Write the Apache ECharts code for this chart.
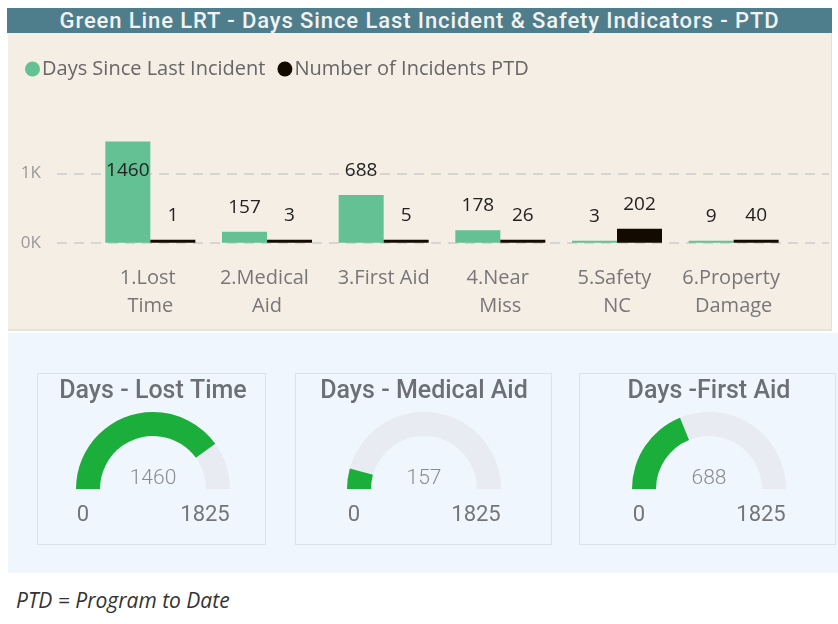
<!DOCTYPE html>
<html>
<head lang="en">
    <meta charset="UTF-8">
    <title>Green Line LRT - Safety Indicators</title>
    <script src="https://cdn.jsdelivr.net/npm/echarts@6/dist/echarts.min.js"></script>
    <style>
        body{
            margin: 0;
            background: #fff;
        }
        #page{
            position: relative;
            width: 838px;
            height: 624px;
            overflow: hidden;
        }
        .panel{
            position: absolute;
        }
        #titleBar{
            left: 7px;
            top: 8px;
            width: 825px;
            height: 25px;
            line-height: 25px;
            background: #4E7E8C;
            color: #F2F2F2;
            font: 500 22px Roboto, sans-serif;
            letter-spacing: 0.9px;
            text-align: center;
            white-space: nowrap;
        }
        #topPanel{
            left: 8px;
            top: 33px;
            width: 823px;
            height: 296px;
            background: #F5EEE4;
            border-right: 1px solid #E6E0D8;
            border-bottom: 2px solid #E6E2DC;
        }
        #bottomPanel{
            left: 8px;
            top: 333px;
            width: 830px;
            height: 240px;
            background: #EFF6FD;
        }
        .box{
            top: 373px;
            height: 170px;
            border: 1px solid #DCE2E9;
        }
        #footer{
            left: 16px;
            top: 586px;
            font: italic 21px "Open Sans", sans-serif;
            color: #333;
        }
        #container{
            position: absolute;
            left: 0;
            top: 0;
            width: 838px;
            height: 624px;
        }
    </style>
</head>
<body>
<div id="page">
    <div class="panel" id="titleBar">Green Line LRT - Days Since Last Incident &amp; Safety Indicators - PTD</div>
    <div class="panel" id="topPanel"></div>
    <div class="panel" id="bottomPanel"></div>
    <div class="panel box" style="left:37px;width:227px;"></div>
    <div class="panel box" style="left:295px;width:255px;"></div>
    <div class="panel box" style="left:579px;width:255px;"></div>
    <div class="panel" id="footer">PTD = Program to Date</div>
    <div id="container"></div>
</div>
<script>
    // bar chart data
    var categories = ['1.Lost Time', '2.Medical Aid', '3.First Aid', '4.Near Miss', '5.Safety NC', '6.Property Damage'];
    var daysSinceLast = [1460, 157, 688, 178, 3, 9];
    var incidentsPTD = [1, 3, 5, 26, 202, 40];
    var yTicks = [0, 1000];

    // gauge data
    var gaugeNames = ['Days - Lost Time', 'Days - Medical Aid', 'Days -First Aid'];
    var gaugeValues = [1460, 157, 688];
    var gaugeMin = [0, 0, 0];
    var gaugeMax = [1825, 1825, 1825];

    var yMax = 1500;
    var gridTop = 138.6, gridBottom = 381.3;
    var gaugeX = [153, 424, 709], gaugeY = 489;

    var greenData = daysSinceLast.map(function (v) {
        // tall bar: label goes inside
        if (v > yMax - 200) {
            return {value: v, label: {position: 'insideTop', distance: 20}};
        }
        return v;
    });

    var series = [
        {
            name: 'Days Since Last Incident',
            type: 'bar',
            xAxisIndex: 1,
            yAxisIndex: 1,
            barWidth: 45,
            barGap: '0%',
            barMinHeight: 2,
            itemStyle: {color: '#63C193'},
            label: {show: true, position: 'top', distance: 15, color: '#222', fontSize: 19, fontFamily: 'Open Sans'},
            data: greenData
        },
        {
            name: 'Number of Incidents PTD',
            type: 'bar',
            xAxisIndex: 1,
            yAxisIndex: 1,
            barWidth: 45,
            barMinHeight: 3,
            itemStyle: {color: '#130A02'},
            label: {show: true, position: 'top', distance: 15, color: '#222', fontSize: 19, fontFamily: 'Open Sans'},
            data: incidentsPTD
        }
    ];

    var graphic = [];
    gaugeValues.forEach(function (v, i) {
        series.push({
            type: 'gauge',
            center: [gaugeX[i], gaugeY],
            radius: 77,
            startAngle: 180,
            endAngle: 0,
            min: gaugeMin[i],
            max: gaugeMax[i],
            progress: {show: true, width: 24, itemStyle: {color: '#1BAE3A'}},
            axisLine: {lineStyle: {width: 24, color: [[1, '#E8EBF1']]}},
            pointer: {show: false},
            anchor: {show: false},
            axisTick: {show: false},
            splitLine: {show: false},
            axisLabel: {show: false},
            title: {offsetCenter: [0, -97], fontSize: 25, color: '#6C6F75', fontWeight: 500, fontFamily: 'Roboto'},
            detail: {offsetCenter: [0, -10], fontSize: 21, color: '#8C8C8C', fontWeight: 300, fontFamily: 'Roboto', formatter: '{value}'},
            data: [{value: v, name: gaugeNames[i]}]
        });
        graphic.push({
            type: 'text', x: gaugeX[i] - 70, y: 515,
            style: {text: String(gaugeMin[i]), fill: '#757575', font: '22px Roboto', textAlign: 'center', textVerticalAlign: 'middle'}
        });
        graphic.push({
            type: 'text', x: gaugeX[i] + 52, y: 515,
            style: {text: String(gaugeMax[i]), fill: '#757575', font: '22px Roboto', textAlign: 'center', textVerticalAlign: 'middle'}
        });
    });

    var myChart = echarts.init(document.getElementById('container'));
    myChart.setOption({
        animation: false,
        legend: {
            left: 20,
            top: 54,
            itemWidth: 15,
            itemHeight: 15,
            itemGap: 12,
            icon: 'circle',
            textStyle: {fontSize: 20, color: '#666', fontFamily: 'Open Sans', padding: [0, 0, 0, -3]},
            data: ['Days Since Last Incident', 'Number of Incidents PTD']
        },
        grid: [
            // wide grid only for the dashed lines
            {left: 57, right: 9, top: gridTop, bottom: gridBottom},
            {left: 92, right: 46, top: gridTop, bottom: gridBottom}
        ],
        xAxis: [
            {gridIndex: 0, type: 'value', show: false},
            {
                gridIndex: 1,
                type: 'category',
                data: categories,
                axisLine: {show: false},
                axisTick: {show: false},
                axisLabel: {
                    interval: 0,
                    margin: 22,
                    fontSize: 20,
                    lineHeight: 28,
                    color: '#777',
                    fontFamily: 'Open Sans',
                    width: 104,
                    overflow: 'break'
                }
            }
        ],
        yAxis: [
            {
                gridIndex: 0,
                min: yTicks[0],
                max: yMax,
                interval: yTicks[1] - yTicks[0],
                axisLine: {show: false},
                axisTick: {show: false},
                axisLabel: {
                    margin: 16,
                    fontSize: 17,
                    color: '#999',
                    fontFamily: 'Open Sans',
                    showMaxLabel: false,
                    formatter: function (v) { return (v / 1000) + 'K'; }
                },
                splitLine: {showMaxLine: false, lineStyle: {color: '#CDCDCD', width: 1.5, type: [10, 7]}}
            },
            {gridIndex: 1, min: yTicks[0], max: yMax, show: false}
        ],
        graphic: graphic,
        series: series
    });
</script>
</body>
</html>
